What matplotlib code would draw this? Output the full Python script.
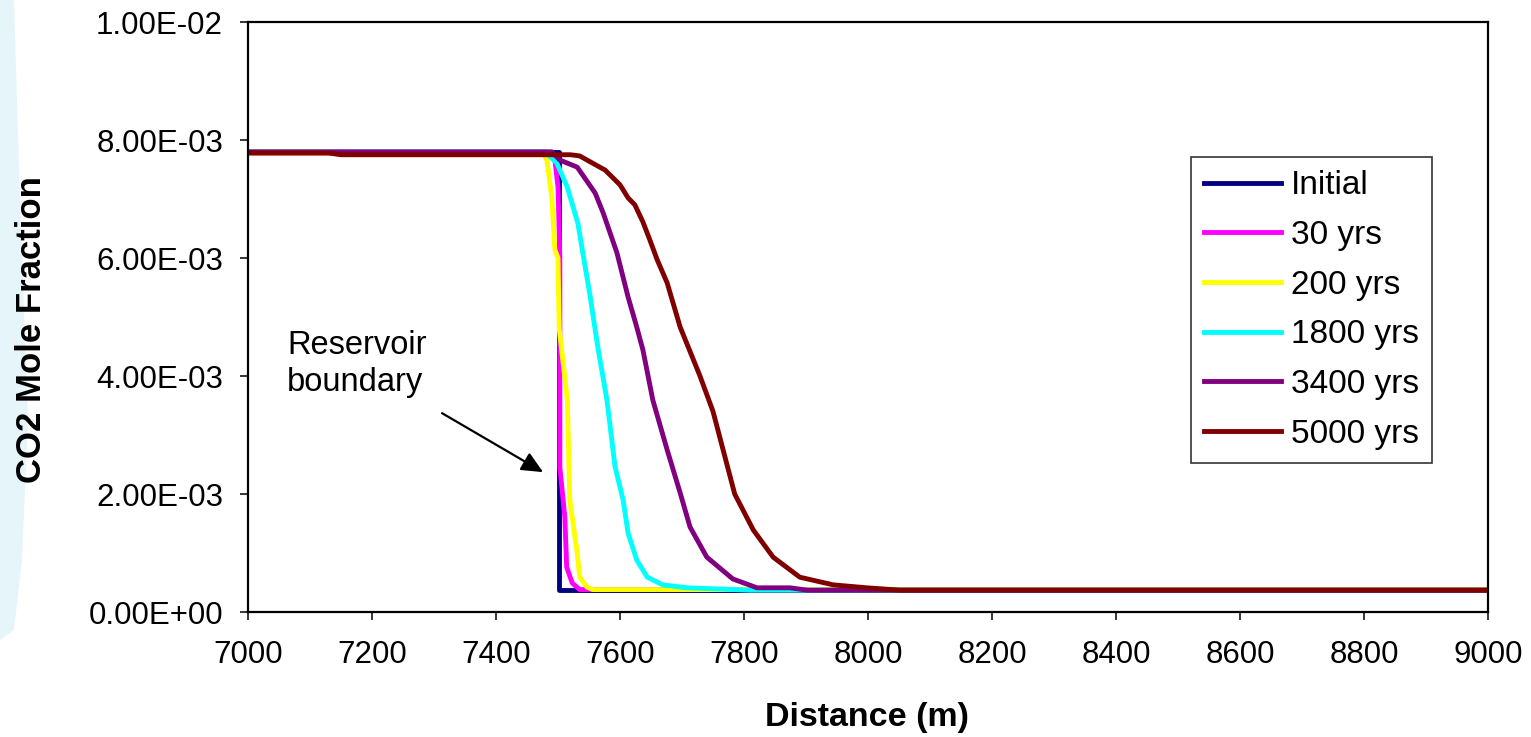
import matplotlib
matplotlib.use("Agg")
import matplotlib.pyplot as plt
from matplotlib.ticker import FuncFormatter, MultipleLocator
from matplotlib.patches import Polygon

plt.rcParams['font.family'] = ['Liberation Sans', 'DejaVu Sans']

# ---- data ----
labels = ["Initial", "30 yrs", "200 yrs", "1800 yrs", "3400 yrs", "5000 yrs"]
colors = ["#000080", "#FF00FF", "#FFFF00", "#00FFFF", "#800080", "#800000"]

x_initial = [7000, 7502, 7502, 9000]
y_initial = [7.80e-3, 7.80e-3, 3.8e-4, 3.8e-4]

x_30 = [7000, 7485, 7495, 7500, 7503, 7503, 7511, 7514, 7523, 7535, 9000]
y_30 = [7.78e-3, 7.78e-3, 7.66e-3, 7.20e-3, 6.00e-3, 2.45e-3, 1.61e-3, 7.6e-4, 4.9e-4, 3.8e-4, 3.8e-4]

x_200 = [7000, 7475, 7482, 7490, 7495, 7500, 7502, 7515, 7519, 7531, 7535, 7547, 7556, 9000]
y_200 = [7.78e-3, 7.78e-3, 7.66e-3, 7.03e-3, 6.14e-3, 6.00e-3, 4.80e-3, 3.60e-3, 1.90e-3,
         1.00e-3, 5.9e-4, 4.2e-4, 3.8e-4, 3.8e-4]

x_1800 = [7000, 7479, 7498, 7515, 7532, 7540, 7552, 7560, 7565, 7579, 7592, 7605, 7613,
          7627, 7644, 7669, 7708, 7810, 9000]
y_1800 = [7.80e-3, 7.80e-3, 7.61e-3, 7.20e-3, 6.59e-3, 6.09e-3, 5.34e-3, 4.78e-3, 4.44e-3,
          3.59e-3, 2.46e-3, 1.90e-3, 1.34e-3, 8.8e-4, 5.9e-4, 4.6e-4, 4.1e-4, 3.7e-4, 3.7e-4]

x_3400 = [7000, 7490, 7503, 7531, 7560, 7573, 7595, 7613, 7627, 7637, 7653, 7676, 7697,
          7713, 7740, 7782, 7821, 7874, 7902, 9000]
y_3400 = [7.80e-3, 7.80e-3, 7.66e-3, 7.54e-3, 7.10e-3, 6.76e-3, 6.09e-3, 5.34e-3, 4.83e-3,
          4.44e-3, 3.59e-3, 2.75e-3, 2.02e-3, 1.44e-3, 9.3e-4, 5.6e-4, 4.1e-4, 4.1e-4,
          3.7e-4, 3.7e-4]

x_5000 = [7000, 7130, 7150, 7520, 7535, 7552, 7576, 7600, 7613, 7624, 7637, 7648, 7660,
          7676, 7697, 7729, 7750, 7785, 7815, 7847, 7890, 7944, 7998, 8052, 9000]
y_5000 = [7.78e-3, 7.78e-3, 7.75e-3, 7.75e-3, 7.73e-3, 7.63e-3, 7.49e-3, 7.24e-3, 7.02e-3,
          6.90e-3, 6.61e-3, 6.31e-3, 5.97e-3, 5.58e-3, 4.83e-3, 4.00e-3, 3.40e-3, 2.00e-3,
          1.39e-3, 9.3e-4, 5.9e-4, 4.6e-4, 4.1e-4, 3.7e-4, 3.7e-4]

series_x = [x_initial, x_30, x_200, x_1800, x_3400, x_5000]
series_y = [y_initial, y_30, y_200, y_1800, y_3400, y_5000]

x_ticks = list(range(7000, 9001, 200))

# ---- figure ----
fig = plt.figure(figsize=(15.31, 7.37), dpi=100)
W, H = 1531, 737

# faint decorative background on the left edge (behind everything)
bg = Polygon([(0, 1), (14 / W, 1), (20 / W, 1 - 200 / H), (28 / W, 1 - 420 / H),
              (22 / W, 1 - 560 / H), (14 / W, 1 - 630 / H), (0, 1 - 640 / H)],
             closed=True, transform=fig.transFigure, facecolor="#e6f5fa",
             edgecolor="none", zorder=-10)
fig.patches.append(bg)

ax = fig.add_axes([248 / W, 1 - 612 / H, (1488 - 248) / W, (612 - 22) / H])
ax.set_facecolor("white")
ax.set_zorder(1)

for xs, ys, c, lab in zip(series_x, series_y, colors, labels):
    ax.plot(xs, ys, color=c, lw=3.5, label=lab, solid_joinstyle="round")

ax.set_xlim(7000, 9000)
ax.set_ylim(0, 0.01)
ax.set_xticks(x_ticks)
ax.yaxis.set_major_locator(MultipleLocator(0.002))
ax.yaxis.set_major_formatter(FuncFormatter(lambda v, p: f"{v:.2E}"))

for s in ax.spines.values():
    s.set_linewidth(1.6)
    s.set_color("black")
ax.tick_params(axis="both", direction="out", length=6, width=1.1, labelsize=22.5)
ax.tick_params(axis="x", pad=14)
ax.tick_params(axis="y", pad=12)

ax.set_xlabel("Distance (m)", fontsize=24.5, fontweight="bold")
ax.set_ylabel("CO2 Mole Fraction", fontsize=25, fontweight="bold")
ax.xaxis.set_label_coords(0.499, -0.153)
ax.yaxis.set_label_coords(-0.161, 0.478)

leg = ax.legend(loc="upper right", bbox_to_anchor=(0.955, 0.771), borderaxespad=0,
                fontsize=24, frameon=True, fancybox=False, framealpha=1,
                edgecolor="#333333", handlelength=2.3, handletextpad=0.3,
                labelspacing=0.56, borderpad=0.4)
leg.get_frame().set_linewidth(1.2)

ax.text(7063, 4.78e-3, "Reservoir\nboundary", fontsize=23.5, va="top", ha="left",
        linespacing=1.25)
ax.annotate("", xy=(7476, 2.37e-3), xytext=(7313, 3.37e-3),
            arrowprops=dict(arrowstyle="-|>,head_length=1.3,head_width=0.6",
                            color="black", lw=1.6, shrinkA=0, shrinkB=0))

fig.savefig("out.png", dpi=100)
